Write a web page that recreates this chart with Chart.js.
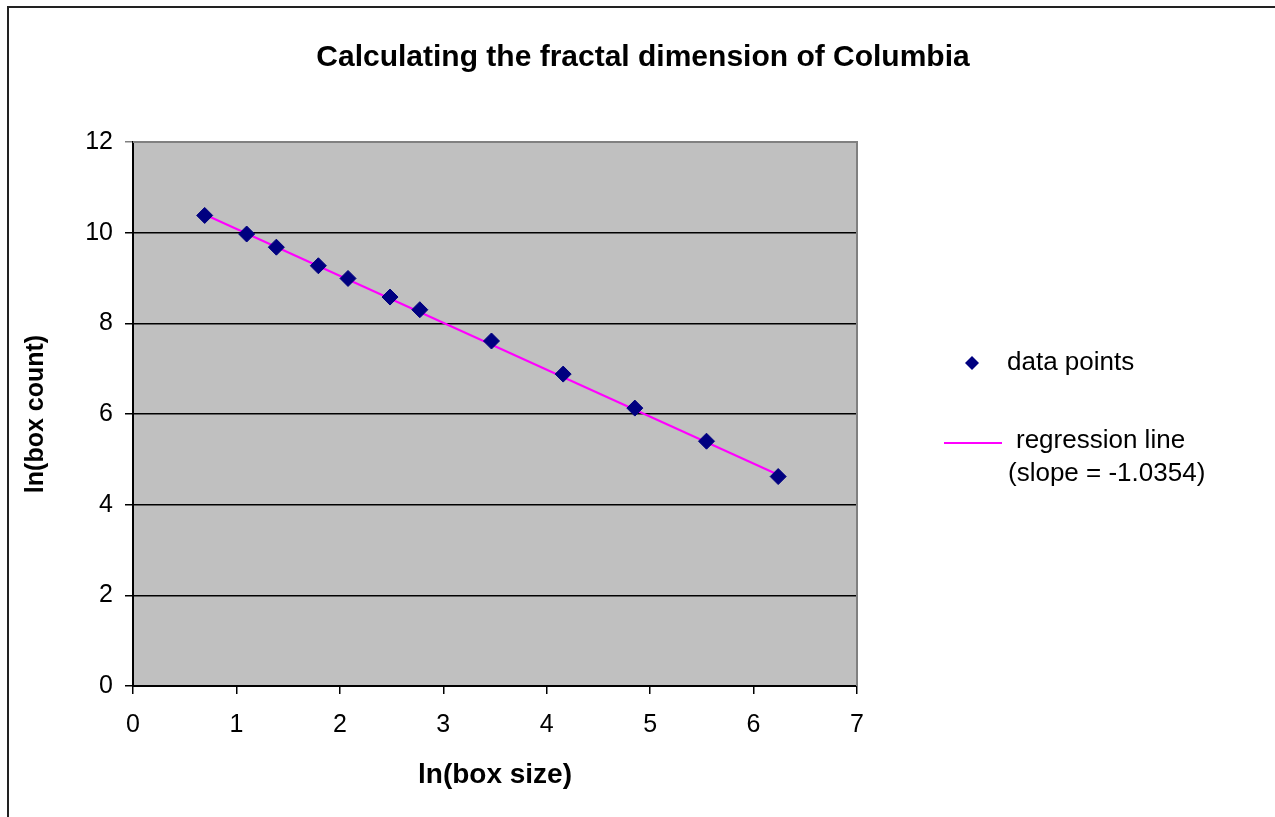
<!DOCTYPE html>
<html>
<head>
<meta charset="utf-8">
<script src="https://cdn.jsdelivr.net/npm/chart.js@4/dist/chart.umd.min.js"></script>
<style>
  html, body { margin: 0; padding: 0; background: #fff; }
  #wrap { width: 1275px; height: 817px; }
</style>
</head>
<body>
<div id="wrap"><canvas id="fractal"></canvas></div>
<script>
// ln(box size) and ln(box count)
var boxSize = [0.693, 1.099, 1.386, 1.792, 2.079, 2.485, 2.773, 3.466, 4.159, 4.852, 5.545, 6.238];
var boxCount = [10.38, 9.97, 9.68, 9.27, 8.99, 8.58, 8.30, 7.61, 6.88, 6.13, 5.40, 4.62];

// regression line end points
var lineX = [0.693, 6.238];
var lineY = [10.40, 4.66];

var xTicks = [0, 1, 2, 3, 4, 5, 6, 7];
var yTicks = [0, 2, 4, 6, 8, 10, 12];

var FONT = "'Liberation Sans', Arial, sans-serif";
var PAD_LEFT = 21;

var frame = {
  id: 'frame',
  beforeDraw: function (chart) {
    var ctx = chart.ctx, a = chart.chartArea;
    ctx.save();
    ctx.fillStyle = '#c0c0c0';
    ctx.fillRect(a.left, a.top, a.right - a.left, a.bottom - a.top);
    ctx.restore();
  },
  afterDatasetsDraw: function (chart) {
    var ctx = chart.ctx, a = chart.chartArea;
    ctx.save();
    // grey top and right edge of plot
    ctx.strokeStyle = '#808080';
    ctx.lineWidth = 2;
    ctx.beginPath();
    ctx.moveTo(a.left, a.top);
    ctx.lineTo(a.right, a.top);
    ctx.lineTo(a.right, a.bottom);
    ctx.stroke();
    ctx.restore();
  },
  afterDraw: function (chart) {
    var ctx = chart.ctx;
    ctx.save();
    // outer border (top + left)
    ctx.strokeStyle = '#222';
    ctx.lineWidth = 2;
    ctx.beginPath();
    ctx.moveTo(8, 817);
    ctx.lineTo(8, 7);
    ctx.lineTo(1275, 7);
    ctx.stroke();

    // title
    ctx.fillStyle = '#000';
    ctx.textAlign = 'center';
    ctx.textBaseline = 'middle';
    ctx.font = 'bold 30px ' + FONT;
    ctx.fillText('Calculating the fractal dimension of Columbia', 643, 58);

    // legend
    var pts = chart.data.datasets[0], reg = chart.data.datasets[1];
    ctx.fillStyle = pts.backgroundColor;
    ctx.beginPath();
    ctx.moveTo(972, 356); ctx.lineTo(979, 363); ctx.lineTo(972, 370); ctx.lineTo(965, 363);
    ctx.closePath();
    ctx.fill();
    ctx.strokeStyle = reg.borderColor;
    ctx.lineWidth = 2;
    ctx.beginPath();
    ctx.moveTo(944, 443); ctx.lineTo(1002, 443);
    ctx.stroke();

    ctx.fillStyle = '#000';
    ctx.textAlign = 'left';
    ctx.font = '26px ' + FONT;
    ctx.fillText(pts.label, 1007, 363);
    ctx.fillText(reg.label[0], 1016, 441);
    ctx.fillText(reg.label[1], 1008, 474);
    ctx.restore();
  }
};

var ctx = document.getElementById('fractal').getContext('2d');
var chart = new Chart(ctx, {
  type: 'scatter',
  data: {
    datasets: [{
      label: 'data points',
      data: boxSize.map(function (x, i) { return { x: x, y: boxCount[i] }; }),
      backgroundColor: '#000080',
      borderColor: '#000080',
      pointStyle: 'rectRot',
      pointRadius: 8,
      pointHoverRadius: 8,
      order: 0
    }, {
      label: ['regression line', '(slope = -1.0354)'],
      data: lineX.map(function (x, i) { return { x: x, y: lineY[i] }; }),
      showLine: true,
      borderColor: '#ff00ff',
      backgroundColor: '#ff00ff',
      borderWidth: 2,
      pointRadius: 0,
      order: 1
    }]
  },
  options: {
    responsive: true,
    maintainAspectRatio: false,
    animation: false,
    layout: { padding: { left: PAD_LEFT, top: 142, right: 418, bottom: 0 } },
    plugins: {
      legend: { display: false },
      title: { display: false },
      tooltip: { enabled: false }
    },
    scales: {
      x: {
        type: 'linear',
        min: 0, max: 7,
        afterBuildTicks: function (s) { s.ticks = xTicks.map(function (v) { return { value: v }; }); },
        afterFit: function (s) { s.height = 817 - 686; },
        grid: { drawOnChartArea: false, color: '#000', tickLength: 8, lineWidth: 1.5 },
        border: { color: '#000', width: 2 },
        ticks: { color: '#000', font: { family: FONT, size: 25 }, padding: 16 },
        title: {
          display: true, text: 'ln(box size)', color: '#000',
          font: { family: FONT, size: 28, weight: 'bold' },
          padding: { top: 0, bottom: 25 }
        }
      },
      y: {
        type: 'linear',
        min: 0, max: 12,
        afterBuildTicks: function (s) { s.ticks = yTicks.map(function (v) { return { value: v }; }); },
        afterFit: function (s) { s.width = 133 - PAD_LEFT; },
        grid: {
          color: function (c) { return c.tick && c.tick.value === 12 ? '#808080' : '#000'; },
          tickLength: 8, lineWidth: 1.5
        },
        border: { color: '#000', width: 2 },
        ticks: { color: '#000', font: { family: FONT, size: 25 }, padding: 12 },
        title: {
          display: true, text: 'ln(box count)', color: '#000',
          font: { family: FONT, size: 25, weight: 'bold' },
          padding: { top: 0, bottom: 0 }
        }
      }
    }
  },
  plugins: [frame]
});
</script>
</body>
</html>
